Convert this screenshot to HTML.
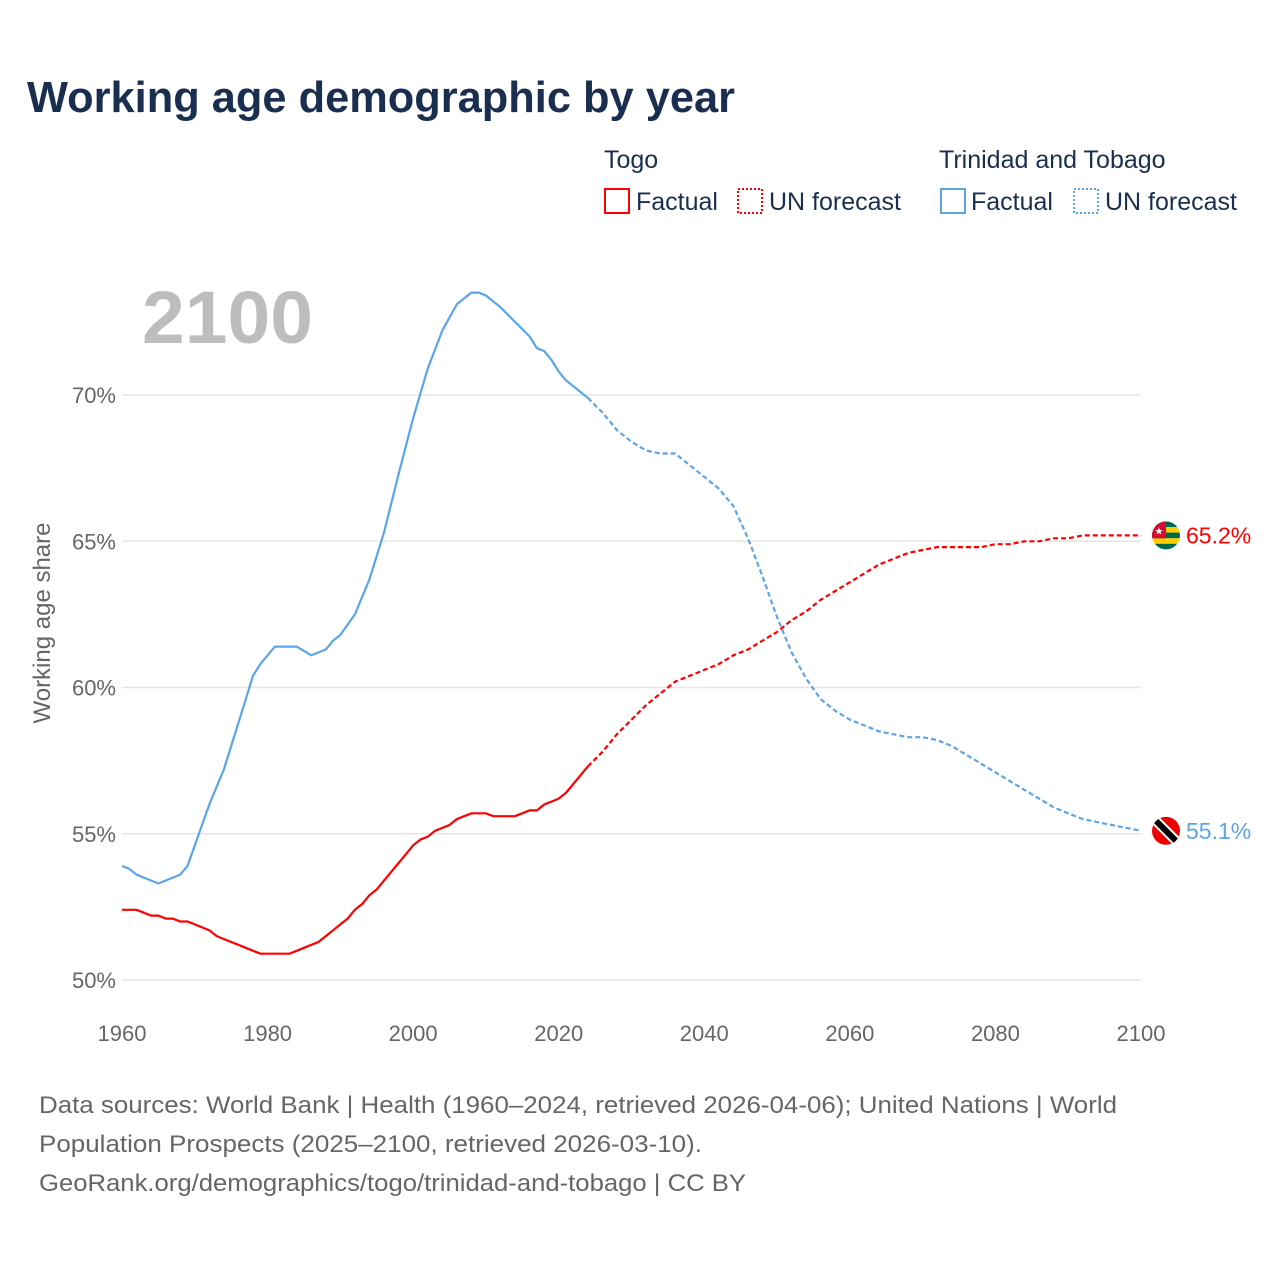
<!DOCTYPE html>
<html><head><meta charset="utf-8"><style>
body{margin:0;background:#fff;font-family:"Liberation Sans",sans-serif;}
#wrap{position:relative;width:1280px;height:1280px;overflow:hidden;}
</style></head><body>
<div id="wrap">
<svg id="chart" width="1280" height="1280">
<text x="27" y="112" font-size="44" font-weight="bold" fill="#1a2e4f" textLength="708" lengthAdjust="spacingAndGlyphs">Working age demographic by year</text>
<g font-size="25" fill="#1a2e4f">
<text x="604" y="168">Togo</text>
<rect x="605" y="189" width="24" height="24" fill="none" stroke="#f00" stroke-width="2"/>
<text x="636" y="210">Factual</text>
<rect x="738" y="189" width="24" height="24" fill="none" stroke="#f00" stroke-width="2" stroke-dasharray="2,2"/>
<text x="769" y="210">UN forecast</text>
<text x="939" y="168">Trinidad and Tobago</text>
<rect x="941" y="189" width="24" height="24" fill="none" stroke="#5aa5e8" stroke-width="2"/>
<text x="971" y="210">Factual</text>
<rect x="1074" y="189" width="24" height="24" fill="none" stroke="#5aa5e8" stroke-width="2" stroke-dasharray="2,2"/>
<text x="1105" y="210">UN forecast</text>
</g>
<text x="142" y="343" font-size="74" font-weight="bold" fill="#bdbdbd" textLength="171" lengthAdjust="spacingAndGlyphs">2100</text>
<text transform="translate(50,623) rotate(-90)" text-anchor="middle" font-size="24" fill="#666">Working age share</text>
<g id="grid"></g><g id="series"></g>
<g font-size="24" fill="#666">
<text x="39" y="1113" textLength="1078" lengthAdjust="spacingAndGlyphs">Data sources: World Bank | Health (1960–2024, retrieved 2026-04-06); United Nations | World</text>
<text x="39" y="1152" textLength="663" lengthAdjust="spacingAndGlyphs">Population Prospects (2025–2100, retrieved 2026-03-10).</text>
<text x="39" y="1191" textLength="707" lengthAdjust="spacingAndGlyphs">GeoRank.org/demographics/togo/trinidad-and-tobago | CC BY</text>
</g>
</svg>
</div>
<script>
const xTicks=[1960,1980,2000,2020,2040,2060,2080,2100];
const yTicks=[50,55,60,65,70];
const togoYears=[1960,1961,1962,1963,1964,1965,1966,1967,1968,1969,1970,1971,1972,1973,1974,1975,1976,1977,1978,1979,1980,1981,1982,1983,1984,1985,1986,1987,1988,1989,1990,1991,1992,1993,1994,1995,1996,1997,1998,1999,2000,2001,2002,2003,2004,2005,2006,2007,2008,2009,2010,2011,2012,2013,2014,2015,2016,2017,2018,2019,2020,2021,2022,2023,2024];
const togoFactual=[52.4,52.4,52.4,52.3,52.2,52.2,52.1,52.1,52.0,52.0,51.9,51.8,51.7,51.5,51.4,51.3,51.2,51.1,51.0,50.9,50.9,50.9,50.9,50.9,51.0,51.1,51.2,51.3,51.5,51.7,51.9,52.1,52.4,52.6,52.9,53.1,53.4,53.7,54.0,54.3,54.6,54.8,54.9,55.1,55.2,55.3,55.5,55.6,55.7,55.7,55.7,55.6,55.6,55.6,55.6,55.7,55.8,55.8,56.0,56.1,56.2,56.4,56.7,57.0,57.3];
const togoFcYears=[2024,2026,2028,2030,2032,2034,2036,2038,2040,2042,2044,2046,2048,2050,2052,2054,2056,2058,2060,2062,2064,2066,2068,2070,2072,2074,2076,2078,2080,2082,2084,2086,2088,2090,2092,2094,2096,2098,2100];
const togoForecast=[57.3,57.8,58.4,58.9,59.4,59.8,60.2,60.4,60.6,60.8,61.1,61.3,61.6,61.9,62.3,62.6,63.0,63.3,63.6,63.9,64.2,64.4,64.6,64.7,64.8,64.8,64.8,64.8,64.9,64.9,65.0,65.0,65.1,65.1,65.2,65.2,65.2,65.2,65.2];
const ttYears=[1960,1961,1962,1963,1965,1967,1968,1969,1970,1972,1974,1975,1976,1978,1979,1980,1981,1982,1984,1986,1988,1989,1990,1992,1994,1996,1998,2000,2002,2004,2006,2008,2009,2010,2012,2014,2016,2017,2018,2019,2020,2021,2022,2024];
const ttFactual=[53.9,53.8,53.6,53.5,53.3,53.5,53.6,53.9,54.6,56.0,57.2,58.0,58.8,60.4,60.8,61.1,61.4,61.4,61.4,61.1,61.3,61.6,61.8,62.5,63.7,65.3,67.3,69.2,70.9,72.2,73.1,73.5,73.5,73.4,73.0,72.5,72.0,71.6,71.5,71.2,70.8,70.5,70.3,69.9];
const ttFcYears=[2024,2026,2028,2030,2032,2034,2036,2038,2040,2042,2044,2046,2048,2050,2052,2054,2056,2058,2060,2062,2064,2066,2068,2070,2072,2074,2076,2078,2080,2082,2084,2086,2088,2090,2092,2094,2096,2098,2100];
const ttForecast=[69.9,69.4,68.8,68.4,68.1,68.0,68.0,67.6,67.2,66.8,66.2,65.1,63.8,62.4,61.2,60.3,59.6,59.2,58.9,58.7,58.5,58.4,58.3,58.3,58.2,58.0,57.7,57.4,57.1,56.8,56.5,56.2,55.9,55.7,55.5,55.4,55.3,55.2,55.1];
const NS='http://www.w3.org/2000/svg';
const X=y=>122+(y-1960)*(1141-122)/140;
const Y=v=>980-(v-50)*(980-395)/20;
function mk(tag,attrs,parent){const e=document.createElementNS(NS,tag);for(const k in attrs)e.setAttribute(k,attrs[k]);parent.appendChild(e);return e;}
const grid=document.getElementById('grid'),ser=document.getElementById('series');
yTicks.forEach(t=>{
 const l=mk('line',{x1:122,x2:1141,y1:Y(t),y2:Y(t),stroke:'#e6e6e6','stroke-width':1.5},grid);
 
 
 const tx=mk('text',{x:116,y:Y(t)+8,'text-anchor':'end','font-size':22,fill:'#666'},grid);tx.textContent=t+'%';
 
 
});
xTicks.forEach(t=>{
 const tx=mk('text',{x:X(t),y:1041,'text-anchor':'middle','font-size':22,fill:'#666'},grid);tx.textContent=t;
 
 
});
function line(xs,vs,color,dash,name){
 const d=xs.map((x,i)=>(i?'L':'M')+X(x).toFixed(1)+','+Y(vs[i]).toFixed(1)).join('');
 const p=mk('path',{d:d,fill:'none',stroke:color,'stroke-width':2.2},ser);
 if(dash)p.setAttribute('stroke-dasharray','5,3');
 
 
}
line(togoYears,togoFactual,'#f00',false,'togo-factual-line');
line(togoFcYears,togoForecast,'#f00',true,'togo-forecast-line');
line(ttYears,ttFactual,'#5aa5e8',false,'tt-factual-line');
line(ttFcYears,ttForecast,'#5aa5e8',true,'tt-forecast-line');
function endLabel(v,color,name,flag){
 const cx=1166,cy=Y(v);
 const g=mk('g',{},ser);
 
 
 const cp=mk('clipPath',{id:name+'-clip'},g);mk('circle',{cx:cx,cy:cy,r:14},cp);
 const fg=mk('g',{'clip-path':'url(#'+name+'-clip)'},g);
 if(flag==='togo'){
  ['#006a4e','#ffce00','#006a4e','#ffce00','#006a4e'].forEach((c,i)=>mk('rect',{x:cx-14,y:cy-14+i*5.6,width:28,height:5.7,fill:c},fg));
  mk('rect',{x:cx-14,y:cy-14,width:14,height:17,fill:'#d21034'},fg);
  const s=mk('text',{x:cx-7,y:cy-1,'text-anchor':'middle','font-size':10,fill:'#fff'},fg);s.textContent='★';
 }else{
  mk('rect',{x:cx-14,y:cy-14,width:28,height:28,fill:'#e00'},fg);
  mk('line',{x1:cx-14,y1:cy-14,x2:cx+14,y2:cy+14,stroke:'#fff','stroke-width':10},fg);
  mk('line',{x1:cx-14,y1:cy-14,x2:cx+14,y2:cy+14,stroke:'#000','stroke-width':6},fg);
 }
 const t=mk('text',{x:1186,y:cy+8,'font-size':23,fill:color},g);t.textContent=v.toFixed(1)+'%';
}
endLabel(togoForecast[togoForecast.length-1],'#f00','togo-end-label','togo');
endLabel(ttForecast[ttForecast.length-1],'#5aa5e8','tt-end-label','tt');
</script>
</body></html>
